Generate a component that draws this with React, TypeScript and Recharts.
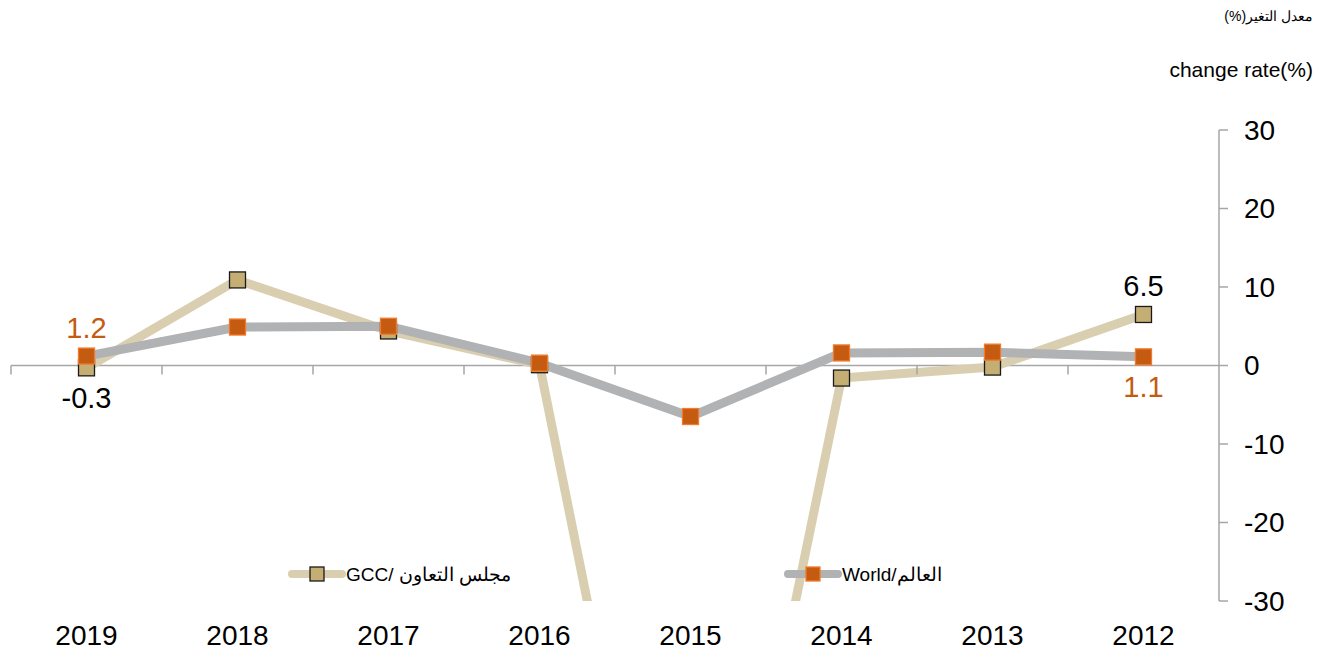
import React from 'react'
import { LineChart, Line, XAxis, YAxis, ReferenceLine, LabelList } from 'recharts'

const years = ['2012', '2013', '2014', '2015', '2016', '2017', '2018', '2019']
const gccValues = [6.5, -0.2, -1.6, -95, 0.1, 4.4, 10.9, -0.3]
const worldValues = [1.1, 1.7, 1.6, -6.5, 0.3, 5.0, 4.9, 1.2]
const yTicks = [-30, -20, -10, 0, 10, 20, 30]

// labels shown only on the end points
const gccLabels: Record<string, string> = { '2012': '6.5', '2019': '-0.3' }
const worldLabels: Record<string, string> = { '2012': '1.1', '2019': '1.2' }

const W = 1330
const H = 652
const M = { top: 130, right: 31, bottom: 11, left: 11 }
const Y_AXIS_W = 80
const X_AXIS_H = 40
const PLOT_W = W - M.left - M.right - Y_AXIS_W
const PLOT_H = H - M.top - M.bottom - X_AXIS_H
const STEP = PLOT_W / years.length
const ZERO_Y = M.top + PLOT_H / 2

const FONT = '"Liberation Sans", Arial, sans-serif'
const AXIS_GREY = '#a6a6a6'

const GCC_LINE = '#d9cfb0'
const GCC_MARK = '#c4ae74'
const WORLD_LINE = '#b1b2b4'
const WORLD_MARK = '#c55a11'
const WORLD_EDGE = '#f07b2c'

const chartData = years.map((year, i) => ({ year, gcc: gccValues[i], world: worldValues[i] }))

function SquareDot(props: any, fill: string, stroke: string) {
  const { cx, cy, index } = props
  if (cx == null || cy == null) return null
  return <rect key={index} x={cx - 8} y={cy - 8} width={16} height={16} fill={fill} stroke={stroke} strokeWidth={1.3} />
}

function YearTick({ x, y, payload }: any) {
  const bx = x - STEP / 2
  return (
    <g>
      <line x1={bx} y1={ZERO_Y} x2={bx} y2={ZERO_Y + 9} stroke={AXIS_GREY} strokeWidth={1.5} />
      <text x={x} y={y + 36} textAnchor="middle" fontSize={28} fontFamily={FONT} fill="#000">
        {payload.value}
      </text>
    </g>
  )
}

function endLabel(texts: Record<string, string>, color: string, above: Record<string, boolean>) {
  return (props: any) => {
    const { x, y, index } = props
    const year = years[index]
    const t = texts[year]
    if (!t) return null
    const dy = above[year] ? -28 : 30
    return (
      <text key={index} x={x} y={y + dy} textAnchor="middle" dominantBaseline="central" fontSize={29} fontFamily={FONT} fill={color}>
        {t}
      </text>
    )
  }
}

function LegendItem({ left, line, fill, stroke, label }: any) {
  return (
    <div style={{ position: 'absolute', left, top: 562, height: 24, display: 'flex', alignItems: 'center' }}>
      <svg width={58} height={24}>
        <line x1={4} y1={12} x2={54} y2={12} stroke={line} strokeWidth={8} strokeLinecap="round" />
        <rect x={22} y={5} width={14} height={14} fill={fill} stroke={stroke} strokeWidth={1.3} />
      </svg>
      <span style={{ fontSize: 19, fontFamily: FONT, color: '#000', direction: 'ltr', whiteSpace: 'nowrap' }}>{label}</span>
    </div>
  )
}

export default function App() {
  return (
    <div style={{ position: 'absolute', left: 0, top: 0, width: W, height: H, background: '#fff' }}>
      <div style={{ position: 'absolute', right: 17, top: 8, fontSize: 14, fontFamily: FONT, direction: 'rtl' }}>
        معدل التغير(%)
      </div>
      <div style={{ position: 'absolute', right: 17, top: 58, fontSize: 21, fontFamily: FONT }}>change rate(%)</div>

      <LineChart width={W} height={H} data={chartData} margin={M}>
        <XAxis
          dataKey="year"
          reversed
          axisLine={false}
          tickLine={false}
          height={X_AXIS_H}
          padding={{ left: STEP / 2, right: STEP / 2 }}
          tick={<YearTick />}
          interval={0}
        />
        <YAxis
          orientation="right"
          domain={[-30, 30]}
          ticks={yTicks}
          allowDataOverflow
          width={Y_AXIS_W}
          axisLine={{ stroke: AXIS_GREY, strokeWidth: 1.5 }}
          tickLine={{ stroke: AXIS_GREY, strokeWidth: 1.5 }}
          tickSize={9}
          tickMargin={16}
          tick={{ fontSize: 28, fontFamily: FONT, fill: '#000' }}
        />
        <ReferenceLine y={0} stroke={AXIS_GREY} strokeWidth={1.5} />
        <Line
          dataKey="gcc"
          stroke={GCC_LINE}
          strokeWidth={9}
          strokeLinejoin="round"
          dot={(p: any) => SquareDot(p, GCC_MARK, '#1a1a1a')}
          activeDot={false}
          isAnimationActive={false}
        >
          <LabelList dataKey="gcc" content={endLabel(gccLabels, '#000', { '2012': true, '2019': false })} />
        </Line>
        <Line
          dataKey="world"
          stroke={WORLD_LINE}
          strokeWidth={9}
          strokeLinejoin="round"
          dot={(p: any) => SquareDot(p, WORLD_MARK, WORLD_EDGE)}
          activeDot={false}
          isAnimationActive={false}
        >
          <LabelList dataKey="world" content={endLabel(worldLabels, WORLD_MARK, { '2012': false, '2019': true })} />
        </Line>
      </LineChart>

      <LegendItem left={288} line={GCC_LINE} fill={GCC_MARK} stroke="#1a1a1a" label="GCC/ مجلس التعاون" />
      <LegendItem left={784} line={WORLD_LINE} fill={WORLD_MARK} stroke={WORLD_EDGE} label="World/العالم" />
    </div>
  )
}
